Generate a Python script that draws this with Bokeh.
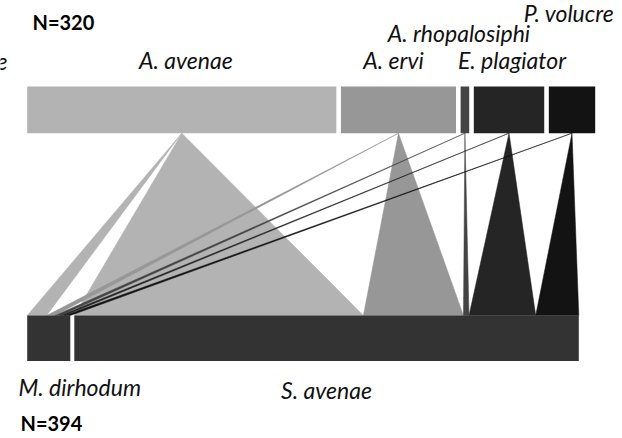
from bokeh.plotting import figure
from bokeh.models import Range1d
from bokeh.core.properties import value
from bokeh.embed import file_html
from bokeh.resources import INLINE

# ---- data ----
top_names = ["A. avenae", "A. ervi", "A. rhopalosiphi", "E. plagiator", "P. volucre"]
top_abund = [180, 67, 5, 41, 27]
top_total_label = "N=320"

bottom_names = ["M. dirhodum", "S. avenae"]
bottom_abund = [31, 363]
bottom_total_label = "N=394"

# interactions: rows = parasitoids (top), cols = aphids (bottom)
links = [
    [14, 208],
    [6, 72],
    [4, 4],
    [3, 48],
    [4, 31],
]

# label of the neighbouring panel, cut off at the left edge
neighbour_label = "P. volucre"

# ---- style / layout ----
top_colors = ["#b3b3b3", "#979797", "#444444", "#252525", "#131313"]
bottom_color = "#333333"
FONT = "Lato"
FS = "23px"

TOP_LEFT, TOP_RIGHT, GAP_TOP = 26.7, 594.7, 4.6
BOT_LEFT, BOT_RIGHT, GAP_BOT = 26.7, 578.3, 4.0
TOP_Y0, TOP_Y1 = 86.0, 132.7
BOT_Y0, BOT_Y1 = 315.0, 360.5
label_row = [0, 0, 1, 0, 2]
label_dx = [4, -5, -6, 3, -3]
row_base = [59, 32, 12]


def boxes(abund, left, right, gap):
    scale = (right - left - gap * (len(abund) - 1)) / float(sum(abund))
    out = []
    x = left
    for a in abund:
        w = a * scale
        out.append((x, x + w))
        x += w + gap
    return out, scale


top_boxes, top_scale = boxes(top_abund, TOP_LEFT, TOP_RIGHT, GAP_TOP)
bot_boxes, bot_scale = boxes(bottom_abund, BOT_LEFT, BOT_RIGHT, GAP_BOT)

W, H = 622, 438
p = figure(width=W, height=H, output_backend="svg", toolbar_location=None,
           x_range=Range1d(0, W), y_range=Range1d(H, 0),
           min_border=0, background_fill_color="white", border_fill_color="white")
p.xaxis.visible = False
p.yaxis.visible = False
p.grid.visible = False
p.outline_line_color = None

# links
offsets = [b[0] for b in bot_boxes]
for i, row in enumerate(links):
    apex = (top_boxes[i][0] + top_boxes[i][1]) / 2.0
    xs, ys = [], []
    for j, v in enumerate(row):
        x0 = offsets[j]
        x1 = x0 + v * bot_scale
        offsets[j] = x1
        xs.append([apex, x1, x0])
        ys.append([TOP_Y1, BOT_Y0, BOT_Y0])
    p.patches(xs, ys, fill_color=top_colors[i], line_color=top_colors[i], line_width=0.5)

# top boxes
p.quad(left=[b[0] for b in top_boxes], right=[b[1] for b in top_boxes],
       top=[TOP_Y0] * len(top_boxes), bottom=[TOP_Y1] * len(top_boxes),
       fill_color=top_colors, line_color=None)
# bottom boxes
p.quad(left=[b[0] for b in bot_boxes], right=[b[1] for b in bot_boxes],
       top=[BOT_Y0] * len(bot_boxes), bottom=[BOT_Y1] * len(bot_boxes),
       fill_color=bottom_color, line_color=None)

# top labels
p.text(x=[(b[0] + b[1]) / 2.0 + d for b, d in zip(top_boxes, label_dx)],
       y=[row_base[r] for r in label_row], text=top_names,
       text_font=value(FONT), text_font_size=FS, text_font_style="italic",
       text_align="center", text_baseline="alphabetic", text_color="#111111")

# cut-off label of neighbouring panel
p.text(x=[7.5], y=[60], text=[neighbour_label], text_font=value(FONT), text_font_size=FS,
       text_font_style="italic", text_align="right", text_baseline="alphabetic", text_color="#111111")

# bottom labels
p.text(x=[18], y=[386], text=[bottom_names[0]], text_font=value(FONT), text_font_size=FS,
       text_font_style="italic", text_align="left", text_baseline="alphabetic", text_color="#111111")
p.text(x=[(bot_boxes[1][0] + bot_boxes[1][1]) / 2.0], y=[389], text=[bottom_names[1]],
       text_font=value(FONT), text_font_size=FS, text_font_style="italic",
       text_align="center", text_baseline="alphabetic", text_color="#111111")

# N labels
p.text(x=[32], y=[21], text=[top_total_label], text_font=value(FONT), text_font_size="20px",
       text_font_style="bold", text_align="left", text_baseline="alphabetic", text_color="#000000")
p.text(x=[20], y=[422], text=[bottom_total_label], text_font=value(FONT), text_font_size="20px",
       text_font_style="bold", text_align="left", text_baseline="alphabetic", text_color="#000000")

open("out.html", "w").write(file_html(p, INLINE))
